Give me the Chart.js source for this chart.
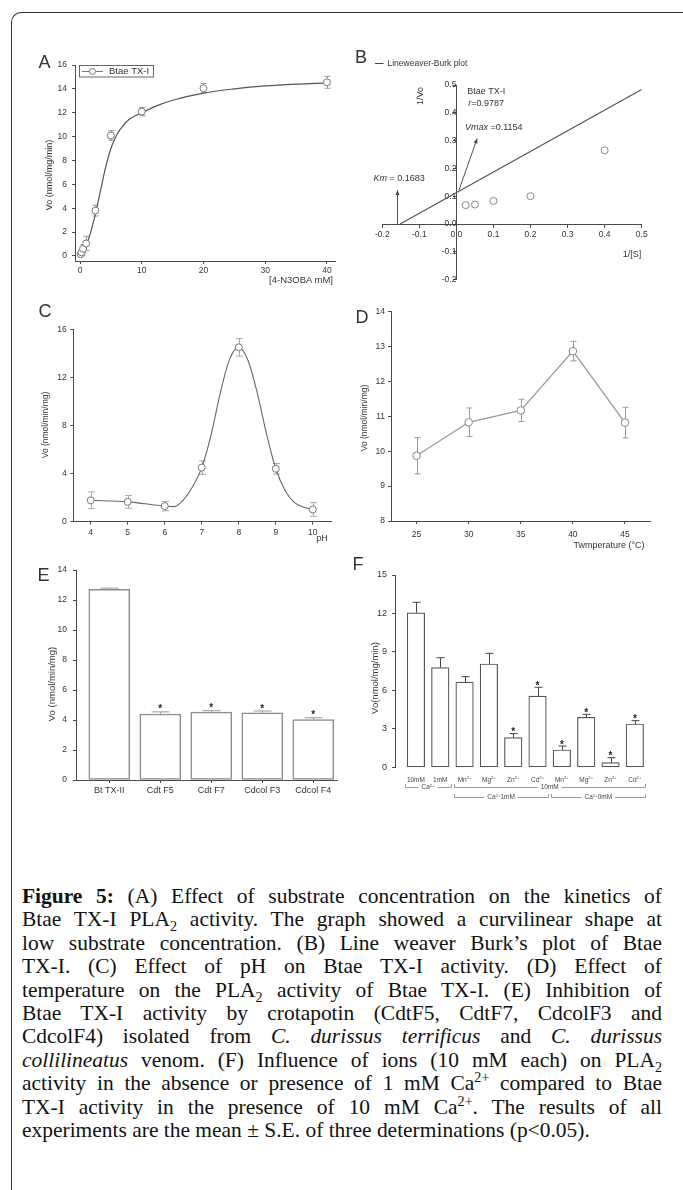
<!DOCTYPE html>
<html><head><meta charset="utf-8">
<script src="https://cdn.jsdelivr.net/npm/chart.js@4.4.0/dist/chart.umd.min.js"></script>
<style>
html,body{margin:0;padding:0;background:#fff;}
body{width:683px;height:1190px;position:relative;overflow:hidden;font-family:"Liberation Sans",Arial,sans-serif;}
canvas{position:absolute;}
.t{position:absolute;white-space:nowrap;line-height:1;color:#333;}
#frame{position:absolute;left:11px;top:12px;width:720px;height:1250px;border-left:1.5px solid #333;border-top:1.5px solid #333;border-top-left-radius:10px;}
#cap{position:absolute;left:22px;top:885px;width:640px;font-family:"Liberation Serif","Times New Roman",serif;font-size:21px;color:#111;}
#cap div{height:23.4px;line-height:23.4px;text-align:justify;text-align-last:justify;}
#cap div.last{text-align:left;text-align-last:left;}
#cap sub,#cap sup{font-size:0.66em;line-height:0;}
</style>
</head><body>
<div id="frame"></div>
<div id="cap">
<div><b>Figure 5:</b> (A) Effect of substrate concentration on the kinetics of</div>
<div>Btae TX-I PLA<sub>2</sub> activity. The graph showed a curvilinear shape at</div>
<div>low substrate concentration. (B) Line weaver Burk’s plot of Btae</div>
<div>TX-I. (C) Effect of pH on Btae TX-I activity. (D) Effect of</div>
<div>temperature on the PLA<sub>2</sub> activity of Btae TX-I. (E) Inhibition of</div>
<div>Btae TX-I activity by crotapotin (CdtF5, CdtF7, CdcolF3 and</div>
<div>CdcolF4) isolated from <i>C. durissus terrificus</i> and <i>C. durissus</i></div>
<div><i>collilineatus</i> venom. (F) Influence of ions (10 mM each) on PLA<sub>2</sub></div>
<div>activity in the absence or presence of 1 mM Ca<sup>2+</sup> compared to Btae</div>
<div>TX-I activity in the presence of 10 mM Ca<sup>2+</sup>. The results of all</div>
<div class="last">experiments are the mean ± S.E. of three determinations (p&lt;0.05).</div>
</div>
<script>
// ---------- DATA ----------
// A: substrate kinetics
const aX = [0.1, 0.25, 0.5, 1, 2.5, 5, 10, 20, 40];
const aY = [0.15, 0.3, 0.6, 1.05, 3.8, 10.1, 12.1, 14.05, 14.55];
const aErr = [0.15, 0.25, 0.35, 0.6, 0.45, 0.4, 0.35, 0.4, 0.5];
const aFitX = [0, 0.5, 1, 1.5, 2, 2.5, 3, 3.5, 4, 5, 6, 7, 8, 10, 12.5, 15, 20, 25, 30, 35, 40];
const aFitY = [0.05, 0.35, 0.85, 1.6, 2.5, 3.5, 4.7, 5.9, 7.1, 9.0, 10.2, 10.95, 11.45, 12.0, 12.6, 13.05, 13.65, 14.0, 14.25, 14.4, 14.5];
const aYTicks = [0, 2, 4, 6, 8, 10, 12, 14, 16];
const aXTicks = [0, 10, 20, 30, 40];
// B: Lineweaver-Burk
const bX = [0.025, 0.05, 0.1, 0.2, 0.4];
const bY = [0.068, 0.07, 0.083, 0.1, 0.265];
const bFitX = [-0.152, 0.5];
const bFitY = [0, 0.484];
const bTicks = [-0.2, -0.1, 0, 0.1, 0.2, 0.3, 0.4, 0.5];
// C: pH
const cX = [4, 5, 6, 7, 8, 9, 10];
const cY = [1.78, 1.65, 1.3, 4.5, 14.5, 4.4, 1.02];
const cErr = [0.7, 0.53, 0.39, 0.56, 0.73, 0.44, 0.57];
const cFitX = [4, 5, 6, 6.25, 6.5, 6.75, 7, 7.25, 7.5, 7.75, 8, 8.25, 8.5, 8.75, 9, 9.25, 9.5, 9.75, 10];
const cFitY = [1.78, 1.65, 1.3, 1.25, 1.8, 2.9, 4.5, 7.2, 10.7, 13.5, 14.5, 13.4, 10.7, 7.3, 4.4, 2.6, 1.6, 1.2, 1.02];
const cYTicks = [0, 4, 8, 12, 16];
const cXTicks = [4, 5, 6, 7, 8, 9, 10];
// D: temperature
const dX = [25, 30, 35, 40, 45];
const dY = [9.87, 10.83, 11.17, 12.87, 10.82];
const dErr = [0.52, 0.41, 0.32, 0.28, 0.44];
const dYTicks = [8, 9, 10, 11, 12, 13, 14];
const dXTicks = [25, 30, 35, 40, 45];
// E: crotapotin inhibition
const eLabels = ['Bt TX-II', 'Cdt F5', 'Cdt F7', 'Cdcol F3', 'Cdcol F4'];
const eY = [12.71, 4.4, 4.52, 4.47, 4.02];
const eErr = [0.08, 0.14, 0.1, 0.13, 0.13];
const eSig = [false, true, true, true, true];
const eYTicks = [0, 2, 4, 6, 8, 10, 12, 14];
// F: ions
const fLabels = ['10mM', '1mM', 'Mn', 'Mg', 'Zn', 'Cd', 'Mn', 'Mg', 'Zn', 'Cd'];
const fSup = ['', '', '2+', '2+', '2+', '2+', '2+', '2+', '2+', '2+'];
const fY = [12.05, 7.78, 6.65, 8.06, 2.31, 5.56, 1.35, 3.9, 0.36, 3.38];
const fErr = [0.82, 0.77, 0.42, 0.83, 0.32, 0.68, 0.31, 0.23, 0.39, 0.26];
const fSig = [false, false, false, false, true, true, true, true, true, true];
const fYTicks = [0, 3, 6, 9, 12, 15];
const fGroups = [
  {from: 0, to: 1, row: 1, text: 'Ca', sup: '2+', tail: ''},
  {from: 2, to: 9, row: 1, text: '10mM', sup: '', tail: ''},
  {from: 2, to: 5, row: 2, text: 'Ca', sup: '2+', tail: '1mM'},
  {from: 6, to: 9, row: 2, text: 'Ca', sup: '2+', tail: '0mM'}
];

// ---------- CAPTION FIT ----------
(function () {
  const cap = document.getElementById('cap');
  const lines = Array.from(cap.children);
  function natural(el) {
    const s = el.cloneNode(true);
    s.style.cssText = 'position:absolute;visibility:hidden;white-space:nowrap;display:inline-block;height:auto;width:auto;text-align:left;text-align-last:left;';
    cap.appendChild(s);
    const w = s.getBoundingClientRect().width;
    cap.removeChild(s);
    return w;
  }
  let fs = 21;
  const wl = natural(lines[lines.length - 1]);
  fs = fs * 568 / wl;
  cap.style.fontSize = fs + 'px';
  lines.forEach(l => {
    const w = natural(l);
    if (w > 637) l.style.letterSpacing = ((637 - w) / l.textContent.length) + 'px';
  });
})();

// ---------- HELPERS ----------
const FONT = '"Liberation Sans", Arial, Helvetica, sans-serif';
Chart.defaults.font.family = FONT;
Chart.defaults.color = '#333';
Chart.defaults.animation = false;
Chart.defaults.responsive = false;
Chart.defaults.maintainAspectRatio = false;
Chart.defaults.devicePixelRatio = 1;
Chart.defaults.plugins.legend.display = false;
Chart.defaults.plugins.tooltip.enabled = false;
const AX = '#4a4a4a';

function T(html, cx, cy, size, rot) {
  const d = document.createElement('div');
  d.className = 't';
  d.innerHTML = html;
  d.style.fontSize = size + 'px';
  d.style.left = cx + 'px';
  d.style.top = cy + 'px';
  d.style.transform = 'translate(-50%,-50%)' + (rot ? ' rotate(-90deg)' : '');
  document.body.appendChild(d);
}

function axis(min, max, ticks, fmt, pad, fs) {
  return {
    type: 'linear', min: min, max: max, offset: false,
    afterBuildTicks: s => { s.ticks = ticks.map(v => ({value: v})); },
    ticks: {callback: fmt || (v => String(v)), font: {size: fs || 8.5}, color: '#333', padding: pad, autoSkip: false, maxRotation: 0},
    grid: {drawOnChartArea: false, tickLength: 3, color: AX, offset: false},
    border: {color: AX, width: 1}
  };
}

function mk(box, area, config, centered) {
  const c = document.createElement('canvas');
  c.width = box.w; c.height = box.h;
  Object.assign(c.style, {left: box.x + 'px', top: box.y + 'px', width: box.w + 'px', height: box.h + 'px'});
  document.body.appendChild(c);
  const o = config.options;
  if (centered) {
    o.layout = {padding: {top: area.t - box.y, right: box.x + box.w - area.r, left: area.l - box.x, bottom: box.y + box.h - area.b}};
    o.scales.x.afterFit = s => { s.height = 0; };
    o.scales.y.afterFit = s => { s.width = 0; };
  } else {
    o.layout = {padding: {top: area.t - box.y, right: box.x + box.w - area.r, left: 0, bottom: 0}};
    o.scales.x.afterFit = s => { s.height = box.y + box.h - area.b; };
    o.scales.y.afterFit = s => { s.width = area.l - box.x; };
  }
  return new Chart(c, config);
}

function errBars(dsIndex, values, errs, color, cap, upOnly, after) {
  const fn = chart => {
    const ctx = chart.ctx, ys = chart.scales.y, meta = chart.getDatasetMeta(dsIndex);
    ctx.save();
    ctx.strokeStyle = color; ctx.lineWidth = 1;
    meta.data.forEach((el, i) => {
      const x = Math.round(el.x) + 0.5;
      const top = ys.getPixelForValue(values[i] + errs[i]);
      const bot = upOnly ? ys.getPixelForValue(values[i]) : ys.getPixelForValue(values[i] - errs[i]);
      ctx.beginPath();
      ctx.moveTo(x, top); ctx.lineTo(x, bot);
      ctx.moveTo(x - cap / 2, top); ctx.lineTo(x + cap / 2, top);
      if (!upOnly) { ctx.moveTo(x - cap / 2, bot); ctx.lineTo(x + cap / 2, bot); }
      ctx.stroke();
    });
    ctx.restore();
  };
  return after ? {id: 'err' + dsIndex, afterDatasetsDraw: fn} : {id: 'err' + dsIndex, beforeDatasetsDraw: fn};
}

function pts(xs, ys) { return xs.map((x, i) => ({x: x, y: ys[i]})); }

function supText(ctx, base, sup, tail, x, y, size, align) {
  ctx.font = size + 'px ' + FONT;
  const w1 = ctx.measureText(base).width;
  ctx.font = (size * 0.65) + 'px ' + FONT;
  const w2 = ctx.measureText(sup).width;
  ctx.font = size + 'px ' + FONT;
  const w3 = ctx.measureText(tail).width;
  const total = w1 + w2 + w3;
  let x0 = align === 'center' ? x - total / 2 : x;
  ctx.textAlign = 'left'; ctx.textBaseline = 'middle';
  ctx.fillText(base, x0, y);
  ctx.font = (size * 0.65) + 'px ' + FONT;
  ctx.fillText(sup, x0 + w1, y - size * 0.3);
  ctx.font = size + 'px ' + FONT;
  ctx.fillText(tail, x0 + w1 + w2, y);
  return total;
}

const circleStyle = {pointRadius: 3.5, pointBorderColor: '#777', pointBackgroundColor: '#fff', pointBorderWidth: 1, showLine: false};

// ---------- PANEL A ----------
const boxA = {x: 20, y: 48, w: 330, h: 237};
mk(boxA, {l: 75, t: 65, r: 335, b: 261}, {
  type: 'scatter',
  data: {datasets: [
    Object.assign({data: pts(aX, aY)}, circleStyle),
    {data: pts(aFitX, aFitY), showLine: true, borderColor: '#555', borderWidth: 1.2, pointRadius: 0, cubicInterpolationMode: 'monotone'}
  ]},
  options: {scales: {
    x: axis(-0.81, 41.3, aXTicks, null, 1.5),
    y: axis(-0.42, 16, aYTicks, null, 5)
  }},
  plugins: [errBars(0, aY, aErr, '#999', 6, false, false), {
    id: 'legA', afterDraw(chart) {
      const ctx = chart.ctx, ox = boxA.x, oy = boxA.y;
      ctx.save();
      ctx.strokeStyle = '#666'; ctx.lineWidth = 1;
      ctx.strokeRect(79.5 - ox, 65.5 - oy, 74, 11.5);
      ctx.strokeStyle = '#777';
      ctx.beginPath(); ctx.moveTo(82 - ox, 71.5 - oy); ctx.lineTo(103 - ox, 71.5 - oy); ctx.stroke();
      ctx.fillStyle = '#fff';
      ctx.beginPath(); ctx.arc(92.5 - ox, 71.5 - oy, 3, 0, Math.PI * 2); ctx.fill(); ctx.stroke();
      ctx.fillStyle = '#333'; ctx.font = '9.5px ' + FONT; ctx.textBaseline = 'middle';
      ctx.fillText('Btae TX-I', 109 - ox, 71.5 - oy);
      ctx.restore();
    }
  }]
});
T('A', 44.5, 62, 18);
T('Vo (nmol/mg/min)', 48.5, 175, 9, true);
T('[4-N3OBA mM]', 301, 279.5, 9.5);

// ---------- PANEL B ----------
const boxB = {x: 350, y: 45, w: 320, h: 250};
function arrow(ctx, x1, y1, x2, y2) {
  ctx.beginPath(); ctx.moveTo(x1, y1); ctx.lineTo(x2, y2); ctx.stroke();
  const a = Math.atan2(y2 - y1, x2 - x1), L = 5, W = 2;
  ctx.beginPath();
  ctx.moveTo(x2, y2);
  ctx.lineTo(x2 - L * Math.cos(a) + W * Math.sin(a), y2 - L * Math.sin(a) - W * Math.cos(a));
  ctx.lineTo(x2 - L * Math.cos(a) - W * Math.sin(a), y2 - L * Math.sin(a) + W * Math.cos(a));
  ctx.closePath(); ctx.fill();
}
const bAxX = axis(-0.2, 0.5, bTicks, v => v.toFixed(1), 3);
bAxX.position = {y: 0};
const bAxY = axis(-0.2, 0.5, bTicks, v => v.toFixed(1), 3.5);
bAxY.position = {x: 0};
mk(boxB, {l: 382.3, t: 85, r: 641.7, b: 279.6}, {
  type: 'scatter',
  data: {datasets: [
    Object.assign({data: pts(bX, bY)}, circleStyle, {pointBorderColor: '#888'}),
    {data: pts(bFitX, bFitY), showLine: true, borderColor: '#555', borderWidth: 1.2, pointRadius: 0}
  ]},
  options: {scales: {x: bAxX, y: bAxY}},
  plugins: [{
    id: 'annB', afterDatasetsDraw(chart) {
      const ctx = chart.ctx, X = chart.scales.x, Y = chart.scales.y;
      const px = v => X.getPixelForValue(v), py = v => Y.getPixelForValue(v);
      ctx.save();
      ctx.fillStyle = '#333'; ctx.strokeStyle = '#555'; ctx.lineWidth = 1;
      ctx.textBaseline = 'middle'; ctx.textAlign = 'left';
      ctx.font = '9px ' + FONT;
      ctx.fillText('Btae TX-I', px(0.029), py(0.476));
      ctx.font = 'italic 9px ' + FONT;
      ctx.fillText('r', px(0.032), py(0.434));
      let w = ctx.measureText('r').width;
      ctx.font = '9px ' + FONT;
      ctx.fillText('=0.9787', px(0.032) + w, py(0.434));
      ctx.font = 'italic 9px ' + FONT;
      ctx.fillText('Vmax', px(0.023), py(0.348));
      w = ctx.measureText('Vmax').width;
      ctx.font = '9px ' + FONT;
      ctx.fillText(' =0.1154', px(0.023) + w, py(0.348));
      ctx.font = 'italic 9px ' + FONT;
      ctx.fillText('Km', px(-0.224), py(0.164));
      w = ctx.measureText('Km').width;
      ctx.font = '9px ' + FONT;
      ctx.fillText(' = 0.1683', px(-0.224) + w, py(0.164));
      ctx.fillStyle = '#444';
      arrow(ctx, px(0.007), py(0.122), px(0.056), py(0.308));
      arrow(ctx, Math.round(px(-0.161)) + 0.5, py(0), Math.round(px(-0.161)) + 0.5, py(0.122));
      // legend
      const ox = boxB.x, oy = boxB.y;
      ctx.strokeStyle = '#444';
      ctx.beginPath(); ctx.moveTo(375 - ox, 63.5 - oy); ctx.lineTo(383.5 - ox, 63.5 - oy); ctx.stroke();
      ctx.fillStyle = '#333'; ctx.font = '8.5px ' + FONT;
      ctx.fillText('Lineweaver-Burk plot', 387.5 - ox, 63.5 - oy);
      ctx.restore();
    }
  }]
}, true);
T('B', 361, 57, 18);
T('1/Vo', 420, 96, 9, true);
T('1/[S]', 632, 254, 9);

// ---------- PANEL C ----------
const boxC = {x: 20, y: 300, w: 330, h: 245};
mk(boxC, {l: 73.3, t: 329.3, r: 331.7, b: 521.7}, {
  type: 'scatter',
  data: {datasets: [
    Object.assign({data: pts(cX, cY)}, circleStyle),
    {data: pts(cFitX, cFitY), showLine: true, borderColor: '#666', borderWidth: 1.1, pointRadius: 0, cubicInterpolationMode: 'monotone'}
  ]},
  options: {scales: {
    x: axis(3.53, 10.51, cXTicks, null, 3),
    y: axis(0, 16, cYTicks, null, 3.6)
  }},
  plugins: [errBars(0, cY, cErr, '#aaa', 7, false, false)]
});
T('C', 45, 311, 18);
T('Vo (nmol/min/mg)', 45, 425, 8.5, true);
T('pH', 322, 537.5, 9);

// ---------- PANEL D ----------
const boxD = {x: 350, y: 300, w: 320, h: 245};
mk(boxD, {l: 391, t: 311.7, r: 650, b: 521}, {
  type: 'scatter',
  data: {datasets: [
    Object.assign({data: pts(dX, dY)}, circleStyle, {showLine: true, borderColor: '#999', borderWidth: 1.3, pointRadius: 3.8, pointBorderColor: '#888'})
  ]},
  options: {scales: {
    x: axis(22.55, 47.4, dXTicks, null, 5.5),
    y: axis(8, 14, dYTicks, null, 3)
  }},
  plugins: [errBars(0, dY, dErr, '#999', 6, false, false)]
});
T('D', 362, 317, 18);
T('Vo (nmol/min/mg)', 363.5, 418, 8.5, true);
T('Twmperature (°C)', 609, 545, 9);

// ---------- PANEL E ----------
const boxE = {x: 20, y: 555, w: 330, h: 250};
const eIdx = eLabels.map((_, i) => i);
mk(boxE, {l: 76, t: 570, r: 337, b: 780}, {
  type: 'bar',
  data: {datasets: [{
    data: pts(eIdx, eY), backgroundColor: '#fff', borderColor: '#8c8c8c', borderWidth: 1.5, barThickness: 41, borderSkipped: false
  }]},
  options: {scales: {
    x: axis(-0.653, 4.465, eIdx, v => eLabels[v], 2, 9),
    y: axis(0, 14, eYTicks, null, 6)
  }},
  plugins: [errBars(0, eY, eErr, '#999', 18, true, true), {
    id: 'starE', afterDatasetsDraw(chart) {
      const ctx = chart.ctx, Y = chart.scales.y, meta = chart.getDatasetMeta(0);
      ctx.save(); ctx.fillStyle = '#222'; ctx.font = 'bold 10px ' + FONT; ctx.textAlign = 'center'; ctx.textBaseline = 'alphabetic';
      meta.data.forEach((el, i) => { if (eSig[i]) ctx.fillText('*', el.x, Y.getPixelForValue(eY[i] + eErr[i]) + 0.5); });
      ctx.restore();
    }
  }]
});
T('E', 43.5, 575, 18);
T('Vo (nmol/min/mg)', 52, 684, 9.5, true);

// ---------- PANEL F ----------
const boxF = {x: 350, y: 555, w: 320, h: 255};
const fIdx = fLabels.map((_, i) => i);
const fAxX = axis(-0.86, 9.5, fIdx, v => fLabels[v], 2);
fAxX.ticks.display = false;
fAxX.grid.display = false;
fAxX.border.display = false;
mk(boxF, {l: 395, t: 575, r: 647, b: 767.3}, {
  type: 'bar',
  data: {datasets: [{
    data: pts(fIdx, fY), backgroundColor: '#fff', borderColor: '#555', borderWidth: 1.2, barThickness: 17.5, borderSkipped: false
  }]},
  options: {scales: {
    x: fAxX,
    y: axis(0, 15, fYTicks, null, 5, 9)
  }},
  plugins: [errBars(0, fY, fErr, '#444', 8, true, true), {
    id: 'annF', afterDatasetsDraw(chart) {
      const ctx = chart.ctx, X = chart.scales.x, Y = chart.scales.y, meta = chart.getDatasetMeta(0);
      const oy = boxF.y;
      ctx.save();
      ctx.fillStyle = '#222'; ctx.font = 'bold 10px ' + FONT; ctx.textAlign = 'center'; ctx.textBaseline = 'alphabetic';
      meta.data.forEach((el, i) => { if (fSig[i]) ctx.fillText('*', el.x, Y.getPixelForValue(fY[i] + fErr[i]) + 1.5); });
      ctx.fillStyle = '#444';
      fIdx.forEach(i => supText(ctx, fLabels[i], fSup[i], '', X.getPixelForValue(i), 780 - oy, 6.5, 'center'));
      ctx.strokeStyle = '#999'; ctx.lineWidth = 1;
      fGroups.forEach(g => {
        const yy = (g.row === 1 ? 787.5 : 797.5) - oy;
        const x1 = X.getPixelForValue(g.from) - 10.5, x2 = X.getPixelForValue(g.to) + 10.5;
        const cx = g.row === 1 && g.to === 9 ? X.getPixelForValue(5.5) : (x1 + x2) / 2;
        const w = supText(ctx, g.text, g.sup, g.tail, cx, yy, 6.5, 'center');
        ctx.beginPath();
        ctx.moveTo(Math.round(x1) + 0.5, yy - 3.5); ctx.lineTo(Math.round(x1) + 0.5, yy);
        ctx.lineTo(cx - w / 2 - 3, yy);
        ctx.moveTo(cx + w / 2 + 3, yy); ctx.lineTo(Math.round(x2) + 0.5, yy);
        ctx.lineTo(Math.round(x2) + 0.5, yy - 3.5);
        ctx.stroke();
      });
      ctx.restore();
    }
  }]
});
T('F', 358, 563.5, 18);
T('Vo(nmol/mg/min)', 375, 678, 9.5, true);
</script>
</body></html>
